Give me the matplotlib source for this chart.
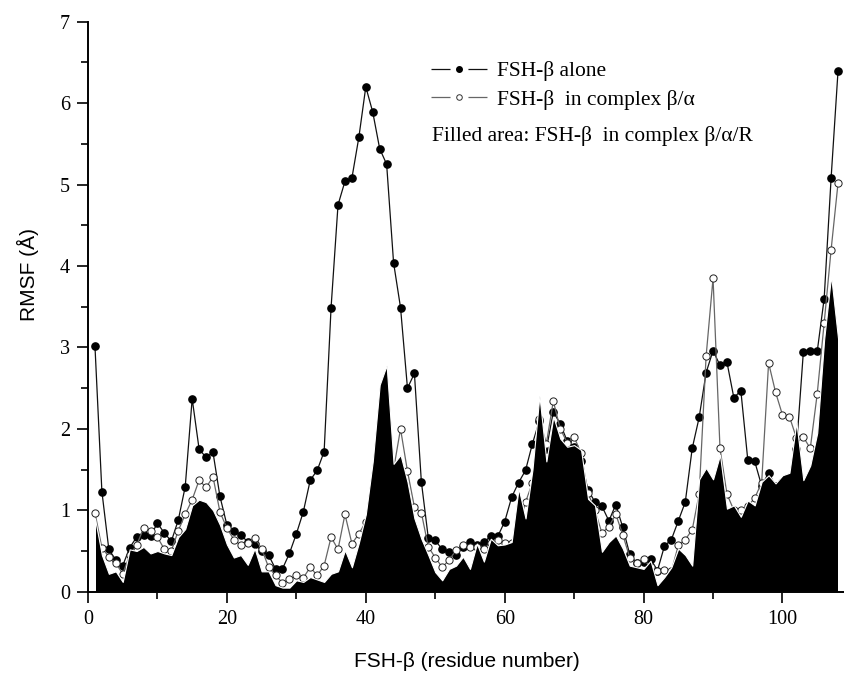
import matplotlib
matplotlib.use("Agg")
import matplotlib.pyplot as plt
from matplotlib.lines import Line2D
from matplotlib.legend_handler import HandlerTuple
from matplotlib.ticker import MultipleLocator

residues = list(range(1, 109))

rmsf_alone = [
    3.02, 1.23, 0.52, 0.39, 0.32, 0.54, 0.67, 0.70, 0.69, 0.84,
    0.72, 0.62, 0.88, 1.29, 2.37, 1.75, 1.65, 1.71, 1.17, 0.82,
    0.75, 0.70, 0.61, 0.58, 0.50, 0.45, 0.28, 0.28, 0.47, 0.71,
    0.98, 1.37, 1.49, 1.72, 3.49, 4.75, 5.04, 5.08, 5.58, 6.20,
    5.89, 5.44, 5.25, 4.04, 3.49, 2.50, 2.68, 1.35, 0.66, 0.63,
    0.52, 0.49, 0.45, 0.55, 0.61, 0.57, 0.61, 0.68, 0.68, 0.86,
    1.16, 1.34, 1.49, 1.82, 2.10, 1.75, 2.21, 2.06, 1.85, 1.78,
    1.60, 1.25, 1.10, 1.05, 0.87, 1.07, 0.79, 0.46, 0.35, 0.36,
    0.40, 0.26, 0.56, 0.64, 0.87, 1.10, 1.76, 2.14, 2.69, 2.96,
    2.78, 2.82, 2.38, 2.47, 1.62, 1.60, 1.30, 1.46, 1.30, 1.35,
    1.40, 1.75, 2.94, 2.95, 2.95, 3.60, 5.08, 6.40,
]

rmsf_complex_ba = [
    0.97, 0.54, 0.43, 0.35, 0.22, 0.45, 0.57, 0.78, 0.75, 0.67,
    0.52, 0.50, 0.75, 0.95, 1.13, 1.37, 1.28, 1.41, 0.98, 0.78,
    0.64, 0.57, 0.60, 0.66, 0.53, 0.30, 0.20, 0.11, 0.15, 0.20,
    0.17, 0.30, 0.20, 0.32, 0.67, 0.52, 0.95, 0.59, 0.71, 0.86,
    1.10, 1.40, 1.60, 1.50, 2.00, 1.48, 1.04, 0.97, 0.55, 0.42,
    0.30, 0.39, 0.51, 0.57, 0.55, 0.55, 0.53, 0.60, 0.63, 0.60,
    0.60, 0.80, 1.10, 1.34, 2.12, 1.82, 2.34, 2.00, 1.83, 1.90,
    1.70, 1.21, 1.00, 0.72, 0.80, 0.95, 0.70, 0.42, 0.35, 0.40,
    0.30, 0.25, 0.27, 0.25, 0.57, 0.64, 0.76, 1.20, 2.89, 3.85,
    1.76, 1.20, 1.00, 1.00, 1.05, 1.15, 1.34, 2.81, 2.45, 2.17,
    2.15, 1.89, 1.90, 1.76, 2.43, 3.30, 4.20, 5.02,
]

rmsf_complex_bar = [
    0.90, 0.45, 0.22, 0.25, 0.12, 0.52, 0.50, 0.55, 0.47, 0.50,
    0.47, 0.45, 0.67, 0.77, 1.06, 1.13, 1.10, 1.00, 0.82, 0.58,
    0.42, 0.45, 0.33, 0.53, 0.25, 0.25, 0.08, 0.05, 0.05, 0.14,
    0.12, 0.18, 0.15, 0.12, 0.22, 0.25, 0.51, 0.30, 0.60, 0.95,
    1.60, 2.54, 2.78, 1.57, 1.68, 1.35, 0.90, 0.65, 0.45, 0.24,
    0.14, 0.28, 0.32, 0.43, 0.28, 0.59, 0.37, 0.65, 0.57, 0.58,
    0.61, 1.27, 0.90, 1.50, 2.41, 1.60, 2.15, 1.88, 1.78, 1.80,
    1.74, 1.14, 1.06, 0.49, 0.61, 0.69, 0.53, 0.32, 0.30, 0.28,
    0.38, 0.08, 0.18, 0.30, 0.53, 0.45, 0.32, 1.38, 1.52, 1.38,
    1.68, 1.02, 1.06, 0.92, 1.12, 1.06, 1.35, 1.43, 1.33, 1.43,
    1.46, 2.08, 1.37, 1.55, 1.95, 3.10, 3.88, 3.11,
]

label_alone = "FSH-\u03b2 alone"
label_ba = "FSH-\u03b2  in complex \u03b2/\u03b1"
label_fill = "Filled area: FSH-\u03b2  in complex \u03b2/\u03b1/R"

serif = "Liberation Serif"
sans = "Liberation Sans"

fig = plt.figure(figsize=(8.45, 6.79), dpi=100)
ax = fig.add_axes([88 / 845, 1 - 591.7 / 679, (845 - 88) / 845, (591.7 - 21.7) / 679])

ax.plot(residues, rmsf_alone, color="#111111", lw=0.9, marker="o", ms=5.2,
        mfc="black", mec="black", zorder=2)
ax.plot(residues, rmsf_complex_ba, color="#666666", lw=0.9, marker="o", ms=5.2,
        mfc="white", mec="#222222", mew=0.7, zorder=2.2)
ax.fill_between(residues, 0, rmsf_complex_bar, facecolor="black",
                edgecolor="white", lw=0.8, zorder=3)

ax.set_xlim(0, 109)
ax.set_ylim(0, 7)
for s in ("top", "right"):
    ax.spines[s].set_visible(False)
for s in ("left", "bottom"):
    ax.spines[s].set_linewidth(1.4)
    ax.spines[s].set_zorder(5)

ax.xaxis.set_major_locator(MultipleLocator(20))
ax.xaxis.set_minor_locator(MultipleLocator(10))
ax.yaxis.set_major_locator(MultipleLocator(1))
ax.yaxis.set_minor_locator(MultipleLocator(0.5))
ax.tick_params(which="major", direction="out", length=8, width=1.2,
               labelsize=14.5, pad=5)
ax.tick_params(which="minor", direction="out", length=5, width=1.2)
for lab in ax.get_xticklabels() + ax.get_yticklabels():
    lab.set_fontfamily(serif)

ax.set_xlabel("FSH-\u03b2 (residue number)", fontfamily=sans, fontsize=15)
ax.set_ylabel("RMSF (\u00c5)", fontfamily=sans, fontsize=15)
ax.xaxis.set_label_coords(0.5, -0.106)
ax.yaxis.set_label_coords(-0.065, 0.556)

fs = 15.5
hl = 2.6
L = hl * fs
lw = 0.9
seg = 0.34 * L / lw
gap = 0.32 * L / lw
h1_line = Line2D([], [], color="#111111", lw=lw, dashes=(seg, gap, seg, 200))
h1_mark = Line2D([], [], ls="none", marker="o", ms=4, mfc="black", mec="black")
h2_line = Line2D([], [], color="#666666", lw=lw, dashes=(seg, gap, seg, 200))
h2_mark = Line2D([], [], ls="none", marker="o", ms=4, mfc="white", mec="#333333", mew=0.7)

leg = ax.legend([(h1_line, h1_mark), (h2_line, h2_mark)], [label_alone, label_ba],
                handler_map={tuple: HandlerTuple(ndivide=1, pad=0)},
                loc="upper left", bbox_to_anchor=(0.4418, 0.946), frameon=False,
                prop={"family": serif, "size": fs}, handlelength=hl,
                handletextpad=0.46, labelspacing=0.4, borderaxespad=0)
ax.text(0.4544, 0.80, label_fill, transform=ax.transAxes, fontfamily=serif,
        fontsize=fs, ha="left", va="center")

fig.savefig("out.png", dpi=100)
